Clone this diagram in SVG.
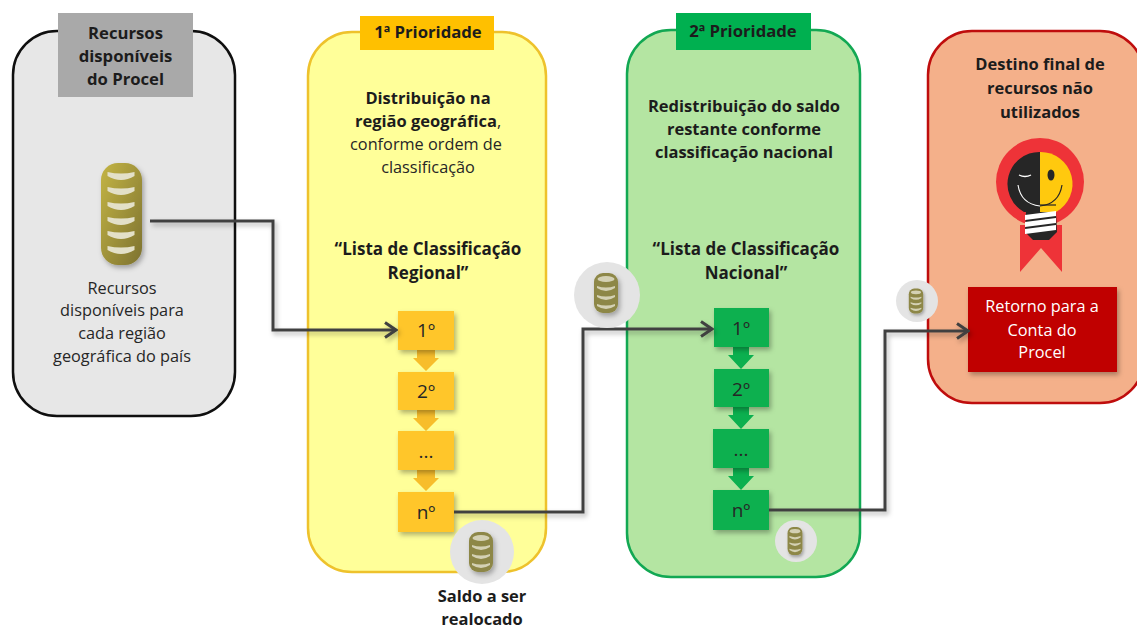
<svg xmlns="http://www.w3.org/2000/svg" width="1137" height="628" viewBox="0 0 1137 628">
<style>
text{font-family:"Open Sans","Noto Sans","Liberation Sans",sans-serif;fill:#262626;text-anchor:middle;font-size:16.300px}
.b{font-weight:700;fill:#1c1c1c;font-size:16.500px}
.h{font-size:16.700px}
.l{font-size:17px}
.conn{fill:none;stroke:#404040;stroke-width:3;filter:url(#sh)}
.y{fill:#ffc629;filter:url(#sh)}
.g{fill:#0bb04f;filter:url(#sh)}
.ya{fill:#f7bd2a}
.ga{fill:#0bb04f}
.n{font-size:19px}
.halo{fill:#e4e4e4}
</style>
<defs>
<filter id="sh" x="-30%" y="-30%" width="170%" height="170%"><feDropShadow dx="2" dy="3" stdDeviation="2.500" flood-color="#000" flood-opacity=".3"/></filter>
<linearGradient id="gold" x1="0" x2="1" y1="0" y2="1"><stop offset="0" stop-color="#c4b545"/><stop offset="1" stop-color="#7d7230"/></linearGradient>
<marker id="ah" markerUnits="userSpaceOnUse" markerWidth="16" markerHeight="20" refX="14" refY="10" orient="auto"><path d="M3 2.500L14 10L3 17.500" fill="none" stroke="#404040" stroke-width="3"/></marker>
<path id="lens" d="M-13.500 -1Q0 2 13.500 -1V3Q0 11-13.500 3Z" fill="#e3e0c8"/>
<path id="lens-s" d="M-9 0Q0 3 9 0V2Q0 8-9 2Z" fill="#d4d1b4"/>
<g id="coin">
<rect x="-20" y="-51" width="41" height="102" rx="17" fill="url(#gold)" filter="url(#sh)"/>
<use href="#lens" y="-41"/><use href="#lens" y="-26"/><use href="#lens" y="-11"/><use href="#lens" y="4"/><use href="#lens" y="18"/><use href="#lens" y="33"/>
</g>
<g id="stack">
<rect x="-12" y="-20" width="24" height="40" rx="9" fill="#8d8746" filter="url(#sh)"/>
<ellipse cx="0" cy="-14" rx="8.500" ry="3" fill="#d4d1b4"/>
<use href="#lens-s" y="-7"/><use href="#lens-s" y="2"/><use href="#lens-s" y="11"/>
</g>
</defs>

<g id="panel-recursos">
<rect x="13" y="31" width="222" height="385" rx="44" fill="#e7e7e7" stroke="#0f0f0f" stroke-width="2.500"/>
<rect x="58" y="13" width="135" height="84" fill="#a9a9a9"/>
<text class="b h" x="125.500" y="39">Recursos</text>
<text class="b h" x="125.500" y="62">disponíveis</text>
<text class="b h" x="125.500" y="85">do Procel</text>
<use href="#coin" x="121" y="214"/>
<text x="122" y="294">Recursos</text>
<text x="122" y="316">disponíveis para</text>
<text x="122" y="339">cada região</text>
<text x="122" y="362">geográfica do país</text>
</g>

<g id="panel-regional">
<rect x="308" y="32" width="238" height="540" rx="44" fill="#ffff99" stroke="#eec22c" stroke-width="2.500"/>
<rect x="360" y="16" width="134" height="34" fill="#ffc000"/>
<text class="b h" x="428" y="38">1ª Prioridade</text>
<text class="b" x="428" y="104">Distribuição na</text>
<text x="428" y="127"><tspan class="b">região geográfica</tspan>,</text>
<text x="426" y="150">conforme ordem de</text>
<text x="428" y="173">classificação</text>
<text class="b l" x="428" y="255">“Lista de Classificação</text>
<text class="b l" x="428" y="279">Regional”</text>
<path class="ya" d="M417 350H435V358H439L426 371L413 358H417Z"/>
<path class="ya" d="M417 410H435V418H439L426 431L413 418H417Z"/>
<path class="ya" d="M417 470H435V478H439L426 491L413 478H417Z"/>
<g id="r1"><rect class="y" x="398" y="311" width="56" height="39"/><text class="n" x="426" y="337">1º</text></g>
<g id="r2"><rect class="y" x="398" y="372" width="56" height="38"/><text class="n" x="426" y="398">2º</text></g>
<g id="r3"><rect class="y" x="398" y="431" width="56" height="39"/><text class="n" x="426" y="458">...</text></g>
<g id="rn"><rect class="y" x="398" y="492" width="56" height="40"/><text class="n" x="426" y="519">nº</text></g>
</g>

<g id="panel-nacional">
<rect x="627" y="30" width="233" height="547" rx="44" fill="#b4e5a2" stroke="#12a853" stroke-width="2.500"/>
<rect x="676" y="13" width="135" height="37" fill="#00b050"/>
<text class="b h" x="743" y="37">2ª Prioridade</text>
<text class="b" x="744" y="112">Redistribuição do saldo</text>
<text class="b" x="744" y="135">restante conforme</text>
<text class="b" x="744" y="158">classificação nacional</text>
<text class="b l" x="746" y="255">“Lista de Classificação</text>
<text class="b l" x="746" y="279">Nacional”</text>
<path class="ga" d="M733 347H749V355H754L741 369L728 355H733Z"/>
<path class="ga" d="M733 407H749V415H754L741 429L728 415H733Z"/>
<path class="ga" d="M733 468H749V476H754L741 490L728 476H733Z"/>
<g id="n1"><rect class="g" x="714" y="308" width="55" height="39"/><text class="n" x="741" y="335">1º</text></g>
<g id="n2"><rect class="g" x="714" y="369" width="55" height="38"/><text class="n" x="741" y="396">2º</text></g>
<g id="n3"><rect class="g" x="713" y="429" width="56" height="39"/><text class="n" x="741" y="456">...</text></g>
<g id="nn"><rect class="g" x="713" y="490" width="56" height="40"/><text class="n" x="741" y="517">nº</text></g>
</g>

<g id="panel-destino">
<rect x="928" y="31" width="216" height="372" rx="44" fill="#f4b08a" stroke="#bf0d0d" stroke-width="2.500"/>
<text class="b" x="1040" y="70">Destino final de</text>
<text class="b" x="1040" y="94">recursos não</text>
<text class="b" x="1040" y="118">utilizados</text>
<g id="selo">
<path d="M1020 225H1062V272L1041 248L1020 272Z" fill="#ee3338"/>
<circle cx="1040" cy="182" r="44" fill="#ee3338"/>
<path d="M1040 152A32 32 0 0 0 1024 212H1040Z" fill="#262626"/>
<path d="M1040 152A32 32 0 0 1 1056 212H1040Z" fill="#ffc90e"/>
<path d="M1040 205H1056" stroke="#262626" stroke-width="1.200"/>
<path d="M1026 212H1056L1057 232L1049 240H1033L1025 232Z" fill="#262626"/>
<g fill="#fff">
<path d="M1025 215L1056 211V216L1025 220Z"/>
<path d="M1025 222L1056 218V223L1025 227Z"/>
<path d="M1025 229L1056 225V230L1025 234Z"/>
</g>
<path d="M1019 175Q1025 178 1031 175" fill="none" stroke="#fff" stroke-width="1.300"/>
<path d="M1018 185Q1021 204 1040 206" fill="none" stroke="#fff" stroke-width="1.100"/>
<path d="M1040 206Q1059 204 1062 185" fill="none" stroke="#262626" stroke-width="1.200"/>
<ellipse cx="1051" cy="175" rx="3.500" ry="5.500" fill="#262626"/>
</g>
<rect x="968" y="287" width="149" height="85" fill="#c00000" filter="url(#sh)"/>
<text x="1042" y="312" style="fill:#fff">Retorno para a</text>
<text x="1042" y="336" style="fill:#fff">Conta do</text>
<text x="1042" y="358" style="fill:#fff">Procel</text>
</g>

<g id="connectors">
<path class="conn" d="M150 221H273V330H396" marker-end="url(#ah)"/>
<path class="conn" d="M454 512H583V329H712" marker-end="url(#ah)"/>
<path class="conn" d="M769 510H885V331H968" marker-end="url(#ah)"/>
</g>

<g id="saldo-a-ser-realocado">
<circle class="halo" cx="482" cy="552" r="32"/>
<use href="#stack" x="481" y="552"/>
<text class="b" x="482" y="602">Saldo a ser</text>
<text class="b" x="482" y="625">realocado</text>
</g>
<g id="saldo-regional">
<circle class="halo" cx="607" cy="295" r="33"/>
<use href="#stack" x="606" y="293"/>
</g>
<g id="saldo-nacional">
<circle class="halo" cx="796" cy="541" r="21"/>
<use href="#stack" transform="translate(795 541) scale(.62 .7)"/>
</g>
<g id="saldo-final">
<circle class="halo" cx="917" cy="301" r="21"/>
<use href="#stack" transform="translate(916 301) scale(.6 .62)"/>
</g>
</svg>
